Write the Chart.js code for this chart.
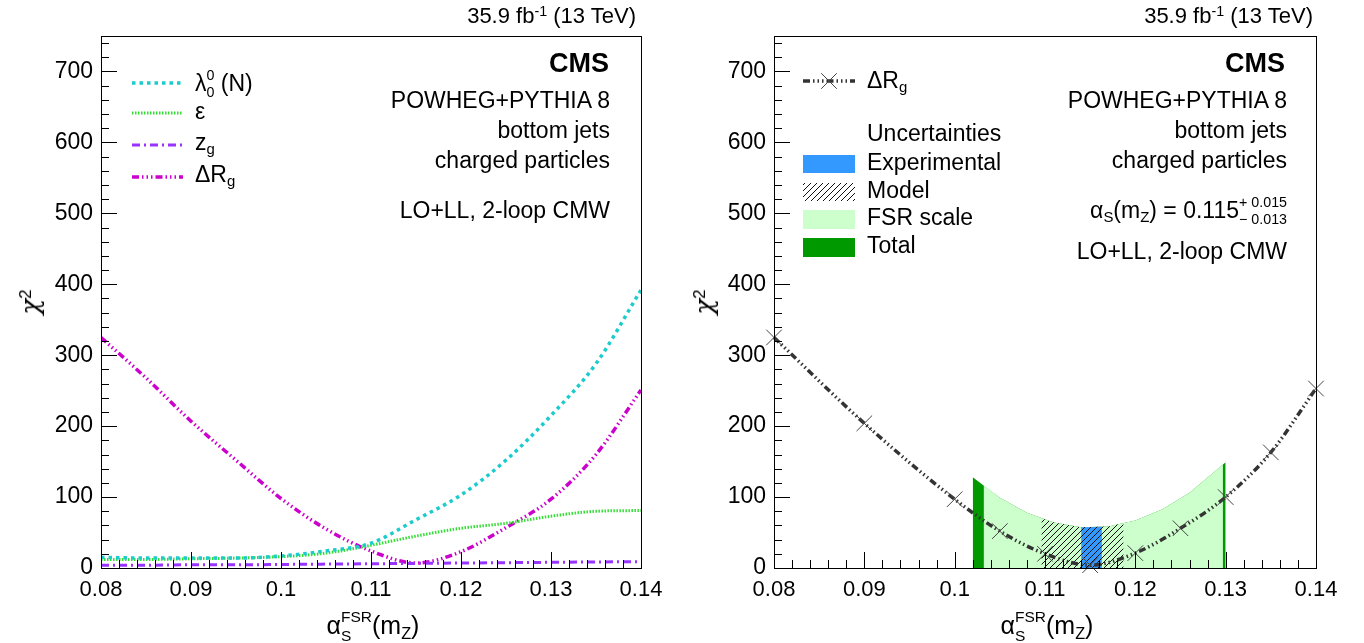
<!DOCTYPE html>
<html>
<head>
<meta charset="utf-8">
<script src="https://cdn.jsdelivr.net/npm/chart.js@4.4.1/dist/chart.umd.min.js"></script>
<style>
  body { margin: 0; background: #fff; }
  #wrap { position: relative; width: 1364px; height: 643px; overflow: hidden;
          font-family: "Liberation Sans", Arial, Helvetica, sans-serif; color: #000; }
  canvas { position: absolute; top: 0; }
  .t { position: absolute; white-space: nowrap; line-height: 1; font-size: 23px; }
  .t sub { font-size: 0.65em; line-height: 0; vertical-align: -0.28em; }
  .t sup { font-size: 0.65em; line-height: 0; vertical-align: 0.5em; }
  .ss { display: inline-block; font-size: 0.62em; line-height: 0; vertical-align: baseline; text-align: left; }
  .ss > span { display: block; position: relative; }
  .ss > .hi { top: -0.75em; }
  .ss > .lo { top: 0.42em; }
  .chi { font-family: "DejaVu Serif", serif; font-style: italic; }
</style>
</head>
<body>
<div id="wrap">
  <canvas id="left" width="682" height="643" style="left:0"></canvas>
  <canvas id="right" width="682" height="643" style="left:682px"></canvas>

  <!-- left panel text -->
  <div class="t" style="right:728px;top:5px;font-size:22px">35.9 fb<sup>-1</sup> (13 TeV)</div>
  <div class="t" style="right:755px;top:50px;font-size:27px;font-weight:bold">CMS</div>
  <div class="t" style="right:754px;top:89px">POWHEG+PYTHIA 8</div>
  <div class="t" style="right:754px;top:119px">bottom jets</div>
  <div class="t" style="right:754px;top:149px">charged particles</div>
  <div class="t" style="right:754px;top:199px">LO+LL, 2-loop CMW</div>

  <div class="t" style="left:195px;top:72px">λ<span class="ss"><span class="hi">0</span><span class="lo">0</span></span> (N)</div>
  <div class="t" style="left:195px;top:100px">ε</div>
  <div class="t" style="left:195px;top:131px">z<sub>g</sub></div>
  <div class="t" style="left:195px;top:163px">ΔR<sub>g</sub></div>

  <div class="t" style="left:30px;top:302px;font-size:26px;transform:translate(-50%,-50%) rotate(-90deg)"><span class="chi">χ</span><sup>2</sup></div>
  <div class="t" style="left:373px;top:613px;font-size:25px;transform:translateX(-50%)">α<span class="ss"><span class="hi">FSR</span><span class="lo">S</span></span>(m<sub>Z</sub>)</div>

  <!-- right panel text -->
  <div class="t" style="right:51px;top:5px;font-size:22px">35.9 fb<sup>-1</sup> (13 TeV)</div>
  <div class="t" style="right:79px;top:50px;font-size:27px;font-weight:bold">CMS</div>
  <div class="t" style="right:77px;top:89px">POWHEG+PYTHIA 8</div>
  <div class="t" style="right:77px;top:119px">bottom jets</div>
  <div class="t" style="right:77px;top:149px">charged particles</div>
  <div class="t" style="right:77px;top:199px">α<sub>S</sub>(m<sub>Z</sub>) = 0.115<span class="ss"><span class="hi">+ 0.015</span><span class="lo">− 0.013</span></span></div>
  <div class="t" style="right:77px;top:240px">LO+LL, 2-loop CMW</div>

  <div class="t" style="left:867px;top:69px">ΔR<sub>g</sub></div>
  <div class="t" style="left:867px;top:122px">Uncertainties</div>
  <div class="t" style="left:867px;top:151px">Experimental</div>
  <div class="t" style="left:867px;top:179px">Model</div>
  <div class="t" style="left:867px;top:206px">FSR scale</div>
  <div class="t" style="left:867px;top:234px">Total</div>

  <div class="t" style="left:704px;top:302px;font-size:26px;transform:translate(-50%,-50%) rotate(-90deg)"><span class="chi">χ</span><sup>2</sup></div>
  <div class="t" style="left:1047px;top:613px;font-size:25px;transform:translateX(-50%)">α<span class="ss"><span class="hi">FSR</span><span class="lo">S</span></span>(m<sub>Z</sub>)</div>
</div>

<script>
// chi2 vs alpha_S^FSR(m_Z)
const alphaFine = [0.08, 0.085, 0.09, 0.095, 0.1, 0.105, 0.11, 0.115, 0.12, 0.125, 0.13, 0.135, 0.14];
const chi2Lambda = [15, 14, 14, 14, 17, 24, 35, 68, 103, 152, 215, 288, 392];
const chi2Eps = [12, 12, 13, 14, 16, 21, 32, 45, 56, 63, 73, 80, 81];
const chi2Zg = [4, 4, 4.5, 4.5, 5, 5.5, 6, 6.5, 7, 7.5, 8, 8.5, 9];
const chi2DRg = [325, 268, 207, 152, 98, 55, 24, 7, 23, 57, 97, 160, 251];

// right panel: scan points for Delta R_g
const alphaScan = [0.08, 0.09, 0.1, 0.105, 0.11, 0.115, 0.12, 0.125, 0.13, 0.135, 0.14];
const chi2Scan = [325, 204, 97, 52, 20, 4, 21, 56, 100, 163, 253];

// uncertainty bands (x edges and upper edge of the shaded area)
const totalX = [0.102, 0.105, 0.108, 0.111, 0.114, 0.117, 0.12, 0.123, 0.126, 0.13];
const totalTop = [128, 99, 78, 64, 57.5, 58.5, 67, 83, 106, 149];
const fsrX = [0.1032, 0.105, 0.108, 0.111, 0.114, 0.117, 0.12, 0.123, 0.126, 0.1297];
const fsrTop = [117, 99, 78, 64, 57.5, 58.5, 67, 83, 106, 146];
const modelX = [0.1096, 0.111, 0.114, 0.117, 0.1187];
const modelTop = [70, 64, 57.5, 58.5, 63];
const expX = [0.114, 0.1163];
const expTop = [57.5, 58];

const xTicks = [0.08, 0.09, 0.1, 0.11, 0.12, 0.13, 0.14];

Chart.defaults.font.family = '"Liberation Sans", Arial, Helvetica, sans-serif';
Chart.defaults.color = '#000';
Chart.defaults.animation = false;

const pts = (xs, ys) => xs.map((x, i) => ({ x: x, y: ys[i] }));

// hatch for the model band
const hatchCanvas = document.createElement('canvas');
hatchCanvas.width = 6; hatchCanvas.height = 6;
const hc = hatchCanvas.getContext('2d');
hc.strokeStyle = '#111'; hc.lineWidth = 1;
hc.beginPath();
hc.moveTo(0, 6); hc.lineTo(6, 0);
hc.moveTo(-1, 1); hc.lineTo(1, -1);
hc.moveTo(5, 7); hc.lineTo(7, 5);
hc.stroke();
const hatch = hc.createPattern(hatchCanvas, 'repeat');

function axes(yWidth) {
  return {
    x: {
      type: 'linear', min: 0.08, max: 0.14,
      grid: { display: false, drawTicks: false }, border: { display: false },
      afterBuildTicks: s => { s.ticks = xTicks.map(v => ({ value: v })); },
      ticks: { padding: 9, font: { size: 22 }, maxRotation: 0, autoSkip: false,
               callback: v => String(Number(v.toFixed(3))) },
      afterFit: s => { s.height = 75; }
    },
    y: {
      type: 'linear', min: 0, max: 750,
      grid: { display: false, drawTicks: false }, border: { display: false },
      ticks: { stepSize: 100, includeBounds: false, padding: 8, font: { size: 23 } },
      afterFit: s => { s.width = yWidth; }
    }
  };
}

// ROOT-style frame with inward major/minor ticks on left and bottom
const rootAxes = {
  id: 'rootAxes',
  afterDraw(chart) {
    const { ctx, chartArea: a, scales: { x, y } } = chart;
    ctx.save();
    ctx.strokeStyle = '#000';
    ctx.lineWidth = 1;
    ctx.strokeRect(a.left + 0.5, a.top + 0.5, a.right - a.left, a.bottom - a.top);
    ctx.beginPath();
    for (let i = 0; i <= 30; i++) {
      const px = Math.round(x.getPixelForValue(0.08 + i * 0.002)) + 0.5;
      const len = i % 5 === 0 ? 16 : 8;
      ctx.moveTo(px, a.bottom); ctx.lineTo(px, a.bottom - len);
    }
    for (let i = 0; i <= 37; i++) {
      const py = Math.round(y.getPixelForValue(i * 20)) + 0.5;
      const len = i % 5 === 0 ? 16 : 8;
      ctx.moveTo(a.left, py); ctx.lineTo(a.left + len, py);
    }
    ctx.stroke();
    ctx.restore();
  }
};

const leftKey = {
  id: 'leftKey',
  afterDraw(chart) {
    const ctx = chart.ctx;
    const rows = [83, 113, 145, 177];
    chart.data.datasets.forEach((ds, i) => {
      ctx.save();
      ctx.strokeStyle = ds.borderColor;
      ctx.lineWidth = ds.borderWidth;
      ctx.setLineDash(ds.borderDash);
      ctx.beginPath();
      ctx.moveTo(132, rows[i]); ctx.lineTo(183, rows[i]);
      ctx.stroke();
      ctx.restore();
    });
  }
};

const rightKey = {
  id: 'rightKey',
  afterDraw(chart) {
    const ctx = chart.ctx;
    const ds = chart.data.datasets[0];
    ctx.save();
    ctx.strokeStyle = ds.borderColor;
    ctx.lineWidth = ds.borderWidth;
    ctx.setLineDash(ds.borderDash);
    ctx.beginPath(); ctx.moveTo(121, 81); ctx.lineTo(173, 81); ctx.stroke();
    ctx.setLineDash([]);
    ctx.strokeStyle = ds.pointBorderColor;
    ctx.lineWidth = 1;
    Chart.helpers.drawPoint(ctx, { pointStyle: 'crossRot', radius: ds.pointRadius, borderWidth: 1 }, 147, 81);
    ctx.fillStyle = '#3399ff'; ctx.fillRect(121, 155, 52, 18);
    ctx.fillStyle = hatch; ctx.fillRect(121, 183, 52, 18);
    ctx.fillStyle = '#ccffcc'; ctx.fillRect(121, 210, 52, 19);
    ctx.fillStyle = '#009900'; ctx.fillRect(121, 238, 52, 19);
    ctx.restore();
  }
};

const curve = (label, ys, color, dash, width) => ({
  label: label, data: pts(alphaFine, ys), borderColor: color, borderWidth: width,
  borderDash: dash, pointRadius: 0, cubicInterpolationMode: 'monotone', fill: false
});

new Chart(document.getElementById('left'), {
  type: 'line',
  data: {
    datasets: [
      curve('λ00 (N)', chi2Lambda, '#1ccccc', [3.5, 4], 3.5),
      curve('ε', chi2Eps, '#33dd33', [1.5, 1.5], 3),
      curve('zg', chi2Zg, '#9933ff', [8, 4, 2, 4], 3),
      curve('ΔRg', chi2DRg, '#cc00cc', [7, 3, 1.5, 3, 1.5, 3, 1.5, 3], 3.5)
    ]
  },
  options: {
    responsive: false, devicePixelRatio: 1,
    layout: { padding: { left: 0, right: 41, top: 36, bottom: 0 } },
    plugins: { legend: { display: false }, tooltip: { enabled: false } },
    scales: axes(101)
  },
  plugins: [rootAxes, leftKey]
});

const band = (label, xs, ys, color, order) => ({
  label: label, data: pts(xs, ys), borderColor: 'transparent', borderWidth: 0,
  backgroundColor: color, fill: 'origin', pointRadius: 0, tension: 0, order: order
});

new Chart(document.getElementById('right'), {
  type: 'line',
  data: {
    datasets: [
      { label: 'ΔRg', data: pts(alphaScan, chi2Scan), borderColor: '#333333', borderWidth: 3.5,
        borderDash: [7, 3, 1.5, 3, 1.5, 3, 1.5, 3], cubicInterpolationMode: 'monotone', fill: false,
        pointStyle: 'crossRot', pointRadius: 11, pointBorderWidth: 1, pointBorderColor: '#444444',
        pointBackgroundColor: 'transparent', clip: false, order: 0 },
      band('Model', modelX, modelTop, hatch, 1),
      band('Experimental', expX, expTop, '#3399ff', 2),
      band('FSR scale', fsrX, fsrTop, '#ccffcc', 3),
      band('Total', totalX, totalTop, '#009900', 4)
    ]
  },
  options: {
    responsive: false, devicePixelRatio: 1,
    layout: { padding: { left: 0, right: 48, top: 36, bottom: 0 } },
    plugins: { legend: { display: false }, tooltip: { enabled: false } },
    scales: axes(92)
  },
  plugins: [rootAxes, rightKey]
});
</script>
</body>
</html>
